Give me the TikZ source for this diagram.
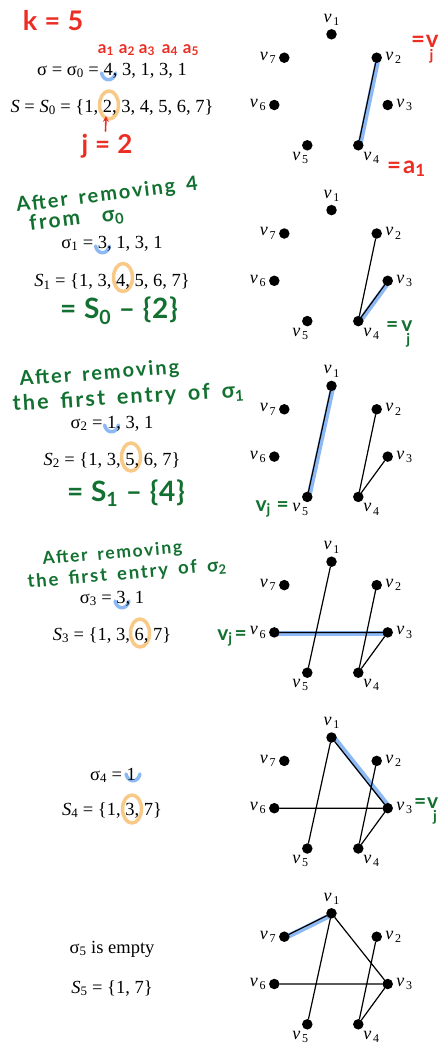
\documentclass[tikz,border=0pt]{standalone}
\usepackage{fontspec}
\setmainfont{Liberation Serif}
\newfontfamily\handfont{Lato}[LetterSpace=3]
\newfontfamily\notefont{Lato}[LetterSpace=10,WordSpace=1.6]
\usetikzlibrary{backgrounds}
\definecolor{handred}{RGB}{235,45,35}
\definecolor{handgreen}{RGB}{18,112,48}
\definecolor{markblue}{RGB}{140,184,244}
\definecolor{markorange}{RGB}{248,201,135}
\newcommand\fsz[1]{\fontsize{#1}{#1}\selectfont}
\newcommand\vl[1]{\textit{v}\kern1.8pt\raisebox{-0.4ex}{\fsz{12}#1}}
\newcommand\vjunder[1]{v\kern#1\raisebox{-13pt}{\fsz{15}j}}

\begin{document}
\begin{tikzpicture}[x=1pt,y=-1pt,line cap=round,line join=round,>=stealth,
  vtx/.style={circle,fill=black,inner sep=0pt,minimum size=10.5pt},
  lab/.style={inner sep=1pt,font=\fsz{18}},
  txt/.style={anchor=base,inner sep=0pt,font=\fsz{18.5}},
  link/.style={line width=1.2pt},
  hl/.style={line width=5pt,markblue},
  hand/.style={inner sep=0pt,font=\handfont\bfseries\fsz{#1}},
  note/.style={inner sep=0pt,anchor=base west,text=handgreen,font=\notefont\bfseries\fsz{#1}},
  cupmark/.pic={\draw[line width=3.5pt,markblue] (-7,-3) .. controls (-5,6) and (5,6) .. (7,-3);},
  ringmark/.pic={\draw[line width=3.5pt,markorange] (0,0) ellipse [x radius=9.5,y radius=14];}]
\useasboundingbox (0,0) rectangle (441,1049);

% the six stages of the tree
\foreach \g in {1,...,6}{
  \begin{scope}[shift={(0,{175.8*(\g-1)})}]
    \node[vtx,label={[lab,label distance=2pt]above:\vl1}] (g\g v1) at (331.5,34.3) {};
    \node[vtx,label={[lab,label distance=2pt]right:\vl2}] (g\g v2) at (376.7,57.7) {};
    \node[vtx,label={[lab,label distance=2pt]right:\vl3}] (g\g v3) at (387.7,105) {};
    \node[vtx,label={[lab,xshift=13pt]below:\vl4}] (g\g v4) at (358.3,145.3) {};
    \node[vtx,label={[lab,xshift=-7pt]below:\vl5}] (g\g v5) at (307.3,145.3) {};
    \node[vtx,label={[lab,label distance=2pt]left:\vl6}] (g\g v6) at (274.3,105) {};
    \node[vtx,label={[lab,label distance=2pt]left:\vl7}] (g\g v7) at (284.3,57.7) {};
  \end{scope}
}

\draw[link] (g1v2) -- (g1v4);
\draw[link] (g2v2) -- (g2v4) (g2v3) -- (g2v4);
\draw[link] (g3v2) -- (g3v4) (g3v3) -- (g3v4) (g3v1) -- (g3v5);
\draw[link] (g4v2) -- (g4v4) (g4v3) -- (g4v4) (g4v1) -- (g4v5) (g4v6) -- (g4v3);
\draw[link] (g5v2) -- (g5v4) (g5v3) -- (g5v4) (g5v1) -- (g5v5) (g5v6) -- (g5v3) (g5v1) -- (g5v3);
\draw[link] (g6v2) -- (g6v4) (g6v3) -- (g6v4) (g6v1) -- (g6v5) (g6v6) -- (g6v3) (g6v1) -- (g6v3) (g6v7) -- (g6v1);

\begin{pgfonlayer}{background}
\draw[hl,transform canvas={xshift=1.5pt}] (g1v2.center) -- (g1v4.center);
\draw[hl,transform canvas={xshift=1pt,yshift=-1pt}] (g2v4.center) -- (g2v3.center);
\draw[hl,transform canvas={xshift=1.5pt}] (g3v1.center) -- (g3v5.center);
\draw[hl,transform canvas={yshift=-1pt}] (g4v6.center) -- (g4v3.center);
\draw[hl,transform canvas={xshift=1.5pt,yshift=1pt}] (g5v1.center) -- (g5v3.center);
\draw[hl,transform canvas={yshift=-1.5pt}] (g6v7.center) -- (g6v1.center);
\end{pgfonlayer}

% marks under the first entry and round the removed vertex
\pic at (108.5,76) {cupmark};
\pic at (102.5,249) {cupmark};
\pic at (111.5,428) {cupmark};
\pic at (122,604) {cupmark};
\pic at (133,777) {cupmark};
\pic at (109,105) {ringmark};
\pic at (123,277.5) {ringmark};
\pic at (131,457) {ringmark};
\pic at (140,633) {ringmark};
\pic at (132,809) {ringmark};

% sequences and sets
\node[txt] (sig0) at (112,75) {σ = σ\textsubscript{0} = 4, 3, 1, 3, 1};
\node[txt] (set0) at (112,112) {\textit{S} = \textit{S}\textsubscript{0} = \{1, 2, 3, 4, 5, 6, 7\}};
\node[txt] (sig1) at (112,248.3) {σ\textsubscript{1} = 3, 1, 3, 1};
\node[txt] (set1) at (112,286.7) {\textit{S}\textsubscript{1} = \{1, 3, 4, 5, 6, 7\}};
\node[txt] (sig2) at (112,428.3) {σ\textsubscript{2} = 1, 3, 1};
\node[txt] (set2) at (112,465) {\textit{S}\textsubscript{2} = \{1, 3, 5, 6, 7\}};
\node[txt] (sig3) at (112,603.3) {σ\textsubscript{3} = 3, 1};
\node[txt] (set3) at (112,640) {\textit{S}\textsubscript{3} = \{1, 3, 6, 7\}};
\node[txt] (sig4) at (113,780) {σ\textsubscript{4} = 1};
\node[txt] (set4) at (112,815) {\textit{S}\textsubscript{4} = \{1, 3, 7\}};
\node[txt] (sig5) at (112,953.3) {σ\textsubscript{5} is empty};
\node[txt] (set5) at (112,993.3) {\textit{S}\textsubscript{5} = \{1, 7\}};

% handwritten notes
\node[hand=27,text=handred] (kval) at (53,21) {k = 5};
\foreach \i/\x in {1/106,2/127,3/147,4/170,5/191}
  \node[hand=17,text=handred] (a\i) at (\x,50) {a\textsubscript{\i}};
\node[hand=26,text=handred] (jval) at (107,146) {j = 2};
\coordinate (jtail) at (105.5,131);
\coordinate (jtip) at (106,116);
\draw[->,handred,line width=1.6pt] (jtail) -- (jtip);
\node[hand=24,text=handred,anchor=base west] (vj1) at (411,48) {=\vjunder{-9pt}};
\node[hand=24,text=handred,anchor=base west] (aeq) at (387,173) {=\kern2pt a\textsubscript{1}};

\node[note=20] (note1a) at (17,212) [rotate=7] {After removing 4};
\node[note=21] (note1b) at (30,231) [rotate=7] {from\hspace{22pt}σ\textsubscript{0}};
\node[hand=28,text=handgreen] (diff1) at (119,311) {= S\textsubscript{0} \textendash\ \{2\}};
\node[hand=21,text=handgreen,anchor=base west] (vj2) at (386,331) {=\kern3pt\vjunder{-6pt}};

\node[note=20] (note2a) at (20,386) [rotate=4.5] {After removing};
\node[note=21.5] (note2b) at (13,411) [rotate=3.5] {the first entry of σ\textsubscript{1}};
\node[hand=28,text=handgreen] (diff2) at (126,493) {= S\textsubscript{1} \textendash\ \{4\}};
\node[hand=21,text=handgreen,anchor=base east] (vj3) at (289,511) {v\textsubscript{j} =};

\node[note=17.5] (note3a) at (43,565) [rotate=5] {After removing};
\node[note=18.5] (note3b) at (28,588) [rotate=5] {the first entry of σ\textsubscript{2}};
\node[hand=21,text=handgreen,anchor=base east] (vj4) at (247,640) {v\textsubscript{j}\kern2pt=};

\node[hand=21,text=handgreen,anchor=base west] (vj5) at (414,808) {=\vjunder{-5pt}};
\end{tikzpicture}
\end{document}
